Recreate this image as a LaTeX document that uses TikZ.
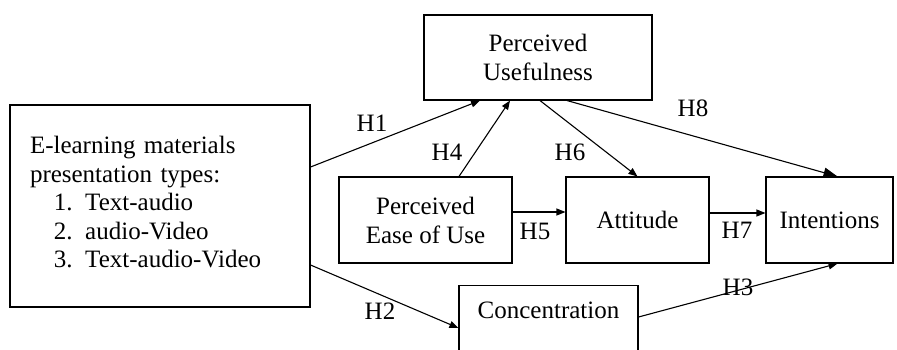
\documentclass[tikz,border=0pt]{standalone}
\usepackage{fontspec}
\setmainfont{Liberation Serif}
\usetikzlibrary{arrows.meta}
\begin{document}
\begin{tikzpicture}[x=1pt,y=-1pt,
  box/.style={draw, line width=1.1pt, inner sep=0pt, align=center,
    font=\fontsize{25}{29}\selectfont},
  link/.style={line width=1.1pt, -{Triangle[length=9pt,width=7pt]}},
  biglink/.style={line width=1.1pt, -{Triangle[length=14pt,width=10pt]}},
  hyp/.style={font=\fontsize{25}{29}\selectfont, inner sep=0pt}]
\clip (0,0) rectangle (897,349);

% constructs
\node[box, minimum width=300pt, minimum height=202pt, text width=260pt,
      align=left, font=\fontsize{25}{28.5}\selectfont] (src) at (160,206)
  {E-learning materials\\
   presentation types:\\
   \hspace*{24pt}1. Text-audio\\
   \hspace*{24pt}2. audio-Video\\
   \hspace*{24pt}3. Text-audio-Video\rule[-8pt]{0pt}{0pt}};
\node[box, minimum width=228pt, minimum height=85pt] (pu) at (538,57.5)
  {Perceived\\Usefulness};
\node[box, minimum width=173pt, minimum height=86pt] (peou) at (425.5,220)
  {Perceived\\Ease of Use};
\node[box, minimum width=143pt, minimum height=86pt] (att) at (637.5,220)
  {Attitude};
\node[box, minimum width=127pt, minimum height=86pt] (int) at (829.5,220)
  {Intentions};
\node[box, anchor=north, minimum width=179pt, inner ysep=16pt,
      text height=17pt, text depth=70pt] (con) at (548.5,285)
  {Concentration};

% hypothesised paths
\draw[link] ([yshift=39pt]src.east) -- ([xshift=-58pt]pu.south);
\draw[link] ([yshift=-59pt]src.east) -- ([yshift=-43pt]con.north west);
\draw[link] ([xshift=33.5pt]peou.north) -- ([xshift=-28pt]pu.south);
\draw[link] ([xshift=2pt]pu.south) -- (att.north);
\draw[biglink] ([xshift=29pt]pu.south) -- ([xshift=8pt]int.north);
\draw[link] ([yshift=8pt]peou.east) -- ([yshift=8pt]att.west);
\draw[link] ([yshift=7pt]att.east) -- ([yshift=7pt]int.west);
\draw[link] ([yshift=-32pt]con.north east) -- ([xshift=8pt]int.south);

% path labels
\node[hyp] (h1) at (372,123.5) {H1};
\node[hyp] (h2) at (380,311) {H2};
\node[hyp] (h3) at (738,287) {H3};
\node[hyp] (h4) at (447,152) {H4};
\node[hyp] (h5) at (535,231) {H5};
\node[hyp] (h6) at (570,152) {H6};
\node[hyp] (h7) at (737,230) {H7};
\node[hyp] (h8) at (693,108) {H8};
\end{tikzpicture}
\end{document}
